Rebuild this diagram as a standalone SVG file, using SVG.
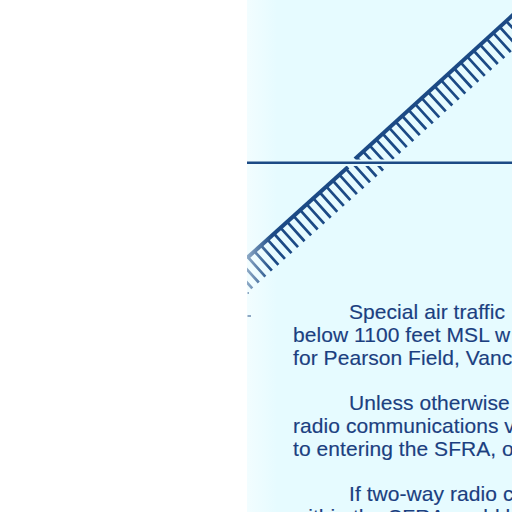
<svg xmlns="http://www.w3.org/2000/svg" width="512" height="512" viewBox="0 0 512 512">
<style>
.t{font-family:"Liberation Sans",Arial,sans-serif;font-size:21px;letter-spacing:.06px;fill:#1b3f80;stroke:#1b3f80;stroke-width:.15}
.m{fill:none;stroke:#1c4a85;stroke-width:4}
.h{fill:none;stroke:#1c4a85;stroke-width:26;stroke-dasharray:2.7 6.1}
</style>
<defs>
<linearGradient id="bg" x1="0" x2="1" y1="0" y2="0"><stop offset="0" stop-color="#f2fdff"/><stop offset="1" stop-color="#e6fbff"/></linearGradient>
<linearGradient id="fade" gradientUnits="userSpaceOnUse" x1="247" x2="272" y1="0" y2="0"><stop offset="0" stop-color="#777"/><stop offset="1" stop-color="#fff"/></linearGradient>
<mask id="m" maskUnits="userSpaceOnUse" x="247" y="160" width="265" height="150"><rect x="247" y="160" width="265" height="150" fill="url(#fade)"/></mask>
<clipPath id="up"><rect x="247" y="0" width="265" height="159.5"/></clipPath>
<clipPath id="lo"><rect x="247" y="166" width="265" height="130"/></clipPath>
</defs>
<rect width="512" height="512" fill="#fff"/>
<rect x="247" width="265" height="512" fill="#e6fbff"/>
<rect x="247" width="30" height="512" fill="url(#bg)"/>
<g id="upper-hatch" clip-path="url(#up)">
<path class="h" d="M345 185.800L530 17"/>
<path class="m" d="M355 159L514 14"/>
</g>
<g mask="url(#m)">
<g id="lower-hatch" clip-path="url(#lo)">
<path class="h" d="M236 285.500L400 137.900"/>
<path class="m" d="M247 258L348 167"/>
</g>
</g>
<path d="M247 162.800H512" fill="none" stroke="#1c4a85" stroke-width="2.4"/>
<path d="M247.500 316H251M247.500 293H249" fill="none" stroke="#6d8bb0" stroke-width="1.5"/>
<g id="text">
<text class="t" x="349" y="319">Special air traffic</text>
<text class="t" x="293" y="342">below 1100 feet MSL w</text>
<text class="t" x="293" y="365">for Pearson Field, Vanc</text>
<text class="t" x="349" y="410">Unless otherwise</text>
<text class="t" x="293" y="433">radio communications v</text>
<text class="t" x="293" y="456">to entering the SFRA, o</text>
<text class="t" x="349" y="501">If two-way radio c</text>
<text class="t" x="293" y="524">within the SFRA could b</text>
</g>
</svg>
